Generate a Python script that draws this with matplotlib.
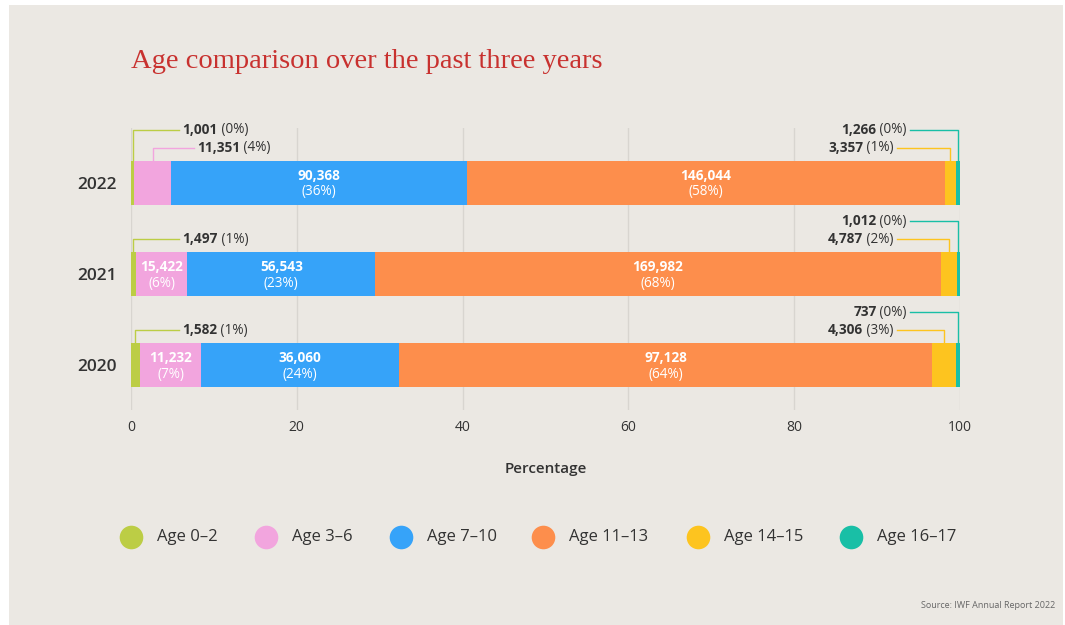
import matplotlib
matplotlib.use("Agg")
import matplotlib.pyplot as plt
from matplotlib.patches import Rectangle
from matplotlib.lines import Line2D

years = ["2020", "2021", "2022"]
age_groups = ["Age 0\u20132", "Age 3\u20136", "Age 7\u201310", "Age 11\u201313", "Age 14\u201315", "Age 16\u201317"]
counts_2020 = [1582, 11232, 36060, 97128, 4306, 737]
counts_2021 = [1497, 15422, 56543, 169982, 4787, 1012]
counts_2022 = [1001, 11351, 90368, 146044, 3357, 1266]
x_ticks = [0, 20, 40, 60, 80, 100]

colors = ["#bccd45", "#f2a5de", "#36a3f9", "#fd8e4c", "#fdc41f", "#19bfa6"]
bg = "#ebe8e3"
text_dark = "#333333"
FONT = "Open Sans"

plt.rcParams["font.family"] = [FONT, "DejaVu Sans"]

fig = plt.figure(figsize=(10.65, 6.25), dpi=100)
fig.patch.set_facecolor("white")
W, H = 1065, 625


def fx(px):
    return px / W


def fy(py):
    return 1 - py / H


# card background
fig.add_artist(Rectangle((fx(9), 0), fx(1063) - fx(9), fy(5), transform=fig.transFigure,
                         facecolor=bg, edgecolor="none", zorder=-10))

ax = fig.add_axes([fx(131), fy(410), fx(960) - fx(131), fy(128) - fy(410)])
ax.set_facecolor("none")
ax.set_xlim(0, 100)
ax.set_ylim(-0.49, 2.6)
for s in ax.spines.values():
    s.set_visible(False)
ax.set_xticks(x_ticks)
ax.set_xticklabels([str(t) for t in x_ticks], fontsize=10, color=text_dark)
ax.tick_params(axis="x", length=0, pad=7)
ax.grid(axis="x", color="#d8d5d0", linewidth=1)
ax.set_axisbelow(True)
ax.set_yticks([0, 1, 2])
ax.set_yticklabels(years, fontsize=12.5, color=text_dark, fontweight="semibold")
ax.tick_params(axis="y", length=0, pad=10)
ax.set_xlabel("Percentage", fontsize=11, color=text_dark, fontweight="semibold", labelpad=20)

bar_h = 0.48
all_counts = [counts_2020, counts_2021, counts_2022]
dy = 1 / 91.0  # data units per pixel (approx)
lab_fs = 9.8

for yi, cnts in enumerate(all_counts):
    total = sum(cnts)
    pcts = [c / total * 100 for c in cnts]
    left = 0
    centers = []
    for gi, p in enumerate(pcts):
        ax.barh(yi, p, left=left, height=bar_h, color=colors[gi], edgecolor="none", zorder=3)
        centers.append(left + p / 2)
        # value labels inside the wider segments
        if gi in (1, 2, 3) and p > 5:
            ax.text(left + p / 2, yi + 0.075, f"{cnts[gi]:,}", ha="center", va="center",
                    color="white", fontsize=lab_fs, fontweight="bold", zorder=4)
            ax.text(left + p / 2, yi - 0.1, f"({round(p):d}%)", ha="center", va="center",
                    color="white", fontsize=lab_fs, zorder=4)
        left += p

    top = yi + bar_h / 2
    low = top + 13 * dy
    high = top + 31 * dy

    # left side callouts (age 0-2, and age 3-6 when too narrow)
    left_items = [(0, high if yi == 2 else low, 6.2)]
    if pcts[1] <= 5:
        left_items.append((1, low, 8.0))
    for gi, ylev, tx in left_items:
        p = pcts[gi]
        ax.plot([centers[gi], centers[gi], tx - 0.4], [top, ylev, ylev], color=colors[gi], lw=1,
                clip_on=False, zorder=2)
        t1 = ax.text(tx, ylev, f"{cnts[gi]:,}", ha="left", va="center", fontsize=lab_fs,
                     fontweight="bold", color=text_dark)
        ax.annotate(f" ({round(p):d}%)", xy=(1, 0.5), xycoords=t1, ha="left", va="center",
                    fontsize=lab_fs, color=text_dark)

    # right side callouts (age 14-15 and 16-17)
    for gi, ylev, tx in [(5, high, 93.6), (4, low, 92.0)]:
        p = pcts[gi]
        ax.plot([centers[gi], centers[gi], tx + 0.4], [top, ylev, ylev], color=colors[gi], lw=1,
                clip_on=False, zorder=2)
        t2 = ax.text(tx, ylev, f" ({round(p):d}%)", ha="right", va="center", fontsize=lab_fs,
                     color=text_dark)
        ax.annotate(f"{cnts[gi]:,}", xy=(0, 0.5), xycoords=t2, ha="right", va="center",
                    fontsize=lab_fs, fontweight="bold", color=text_dark)

# title
fig.text(fx(131), fy(61), "Age comparison over the past three years", fontsize=20.5,
         color="#c8312f", family="Liberation Serif", ha="left", va="center")

# legend
leg_circle_x = [131, 266, 401, 543, 698, 851]
for i, (cx, lab) in enumerate(zip(leg_circle_x, age_groups)):
    fig.add_artist(Line2D([fx(cx)], [fy(537)], marker="o", markersize=17, color=colors[i],
                          markeredgecolor="none", linestyle="none", transform=fig.transFigure))
    fig.text(fx(cx + 26), fy(537), lab, fontsize=12, color=text_dark, ha="left", va="center",
             fontweight="medium")

fig.text(fx(1055), fy(605), "Source: IWF Annual Report 2022", fontsize=6.5, color="#666666",
         ha="right", va="center")

fig.savefig("out.png", dpi=100, facecolor=fig.get_facecolor())
